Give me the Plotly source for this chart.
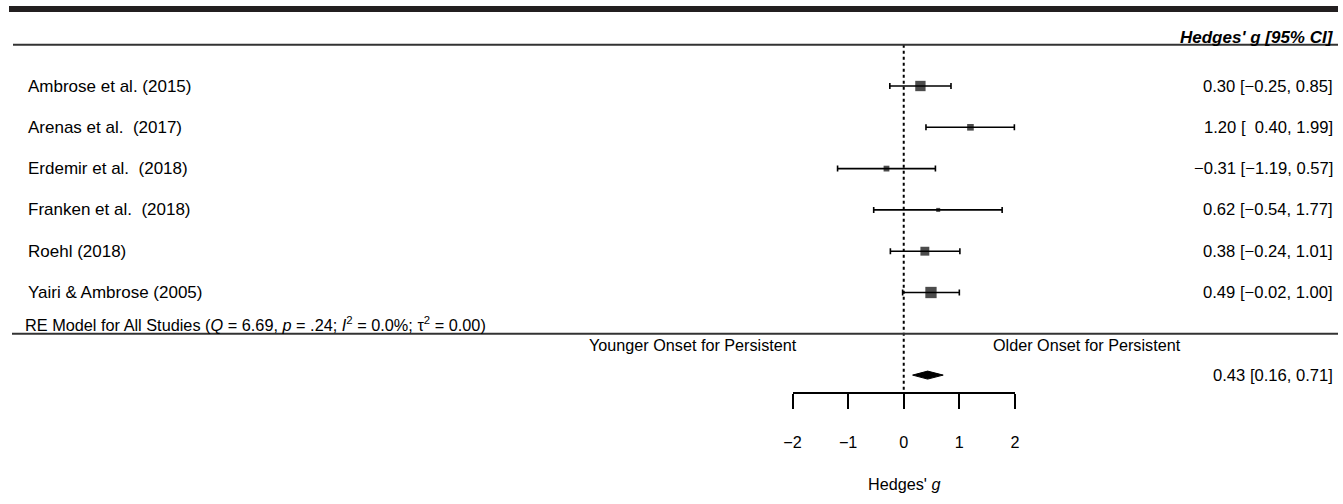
import plotly.graph_objects as go

# ---------------- data ----------------
studies = ["Ambrose et al. (2015)", "Arenas et al.  (2017)", "Erdemir et al.  (2018)",
           "Franken et al.  (2018)", "Roehl (2018)", "Yairi & Ambrose (2005)"]
est = [0.30, 1.20, -0.31, 0.62, 0.38, 0.49]
lb = [-0.25, 0.40, -1.19, -0.54, -0.24, -0.02]
ub = [0.85, 1.99, 0.57, 1.77, 1.01, 1.00]
summary_est, summary_lb, summary_ub = 0.43, 0.16, 0.71
tick_vals = [-2, -1, 0, 1, 2]
header_label = "<b><i>Hedges' g [95% CI]</i></b>"
model_label = ("RE Model for All Studies (<i>Q</i> = 6.69, <i>p</i> = .24; "
               "<i>I</i><sup>2</sup> = 0.0%; τ<sup>2</sup> = 0.00)")
left_note = "Younger Onset for Persistent"
right_note = "Older Onset for Persistent"
axis_title = "Hedges' <i>g</i>"

# ---------------- geometry helpers ----------------
W, H = 1343, 504
# the page is photographed with a slight horizontal offset/scale; compensate
OFF_X, SCALE_X = 9.0, 0.9896

def cx(px):
    """target pixel -> layout pixel"""
    return (px - OFF_X) / SCALE_X

X0_PX = cx(903.75)              # layout pixel of g = 0
PX_PER_UNIT = 55.6 / SCALE_X    # layout pixels per unit of g
ROW6_PX = 86.0
PX_PER_ROW = 41.3

def gx(px):
    return (cx(px) - X0_PX) / PX_PER_UNIT

def row(px):
    return 6 - (px - ROW6_PX) / PX_PER_ROW

def paper_y(px):
    return 1 - px / H

k = len(studies)
rows = list(range(k, 0, -1))
summary_row = -1

FONT = "Liberation Sans, Arial, sans-serif"
FS = 17.0

def fmt(v):
    return f"{v:.2f}".replace("-", "\u2212")

any_neg = any(v < 0 for v in lb)
ci_text = []
for e, l, u in zip(est, lb, ub):
    ls = fmt(l)
    if any_neg and l >= 0:
        ls = "\u00a0\u00a0" + ls
    ci_text.append(f"{fmt(e)} [{ls}, {fmt(u)}]")

# marker sizes from precision (as metafor does)
w = [1 / ((u - l) / 3.92) for l, u in zip(lb, ub)]
wmin, wmax = min(w), max(w)
sizes = [4 + 7.3 * (wi - wmin) / (wmax - wmin) for wi in w]

fig = go.Figure()

fig.add_trace(go.Scatter(
    x=est, y=rows, mode="markers",
    marker=dict(symbol="square", size=sizes, color="black", line=dict(width=0)),
    error_x=dict(type="data", symmetric=False,
                 array=[u - e for e, u in zip(est, ub)],
                 arrayminus=[e - l for e, l in zip(est, lb)],
                 color="black", thickness=1.6, width=3),
    showlegend=False, hoverinfo="skip", cliponaxis=False))

dh = 4 / PX_PER_ROW
fig.add_trace(go.Scatter(
    x=[summary_lb, summary_est, summary_ub, summary_est, summary_lb],
    y=[summary_row, summary_row + dh, summary_row, summary_row - dh, summary_row],
    mode="lines", fill="toself", fillcolor="black",
    line=dict(color="black", width=1), showlegend=False, hoverinfo="skip"))

fig.add_trace(go.Scatter(
    x=[0, 0], y=[k + 1, row(393)], xaxis="x2", yaxis="y",
    mode="lines", line=dict(color="black", width=2, dash="3px,3px"),
    showlegend=False, hoverinfo="skip", cliponaxis=False))

txt_font = dict(family=FONT, size=FS, color="black")
annotations = []
for r, s, t in zip(rows, studies, ci_text):
    annotations.append(dict(x=gx(26), y=r, xref="x", yref="y", text=s,
                            xanchor="left", yanchor="middle", showarrow=False, font=txt_font))
    annotations.append(dict(x=gx(1335), y=r, xref="x", yref="y", text=t,
                            xanchor="right", yanchor="middle", showarrow=False,
                            font=dict(family=FONT, size=16.6, color="black")))

annotations.append(dict(x=gx(1335), y=summary_row, xref="x", yref="y",
                        text=f"{fmt(summary_est)} [{fmt(summary_lb)}, {fmt(summary_ub)}]",
                        xanchor="right", yanchor="middle", showarrow=False,
                        font=dict(family=FONT, size=16.6, color="black")))
annotations.append(dict(x=gx(1336), y=row(37), xref="x", yref="y", text=header_label,
                        xanchor="right", yanchor="middle", showarrow=False, font=txt_font))
annotations.append(dict(x=gx(23), y=row(324), xref="x", yref="y", text=model_label,
                        xanchor="left", yanchor="middle", showarrow=False,
                        font=dict(family=FONT, size=16.3, color="black")))
annotations.append(dict(x=gx(799), y=row(345), xref="x", yref="y", text=left_note,
                        xanchor="right", yanchor="middle", showarrow=False,
                        font=dict(family=FONT, size=16.2, color="black")))
annotations.append(dict(x=gx(991), y=row(345), xref="x", yref="y", text=right_note,
                        xanchor="left", yanchor="middle", showarrow=False,
                        font=dict(family=FONT, size=16.2, color="black")))
annotations.append(dict(x=0, y=row(484), xref="x", yref="y", text=axis_title,
                        xanchor="center", yanchor="middle", showarrow=False,
                        font=dict(family=FONT, size=16.2, color="black")))

shapes = [
    # top black bar
    dict(type="rect", xref="paper", yref="paper", x0=max(cx(8), 0) / W, x1=1,
         y0=paper_y(12), y1=paper_y(6), fillcolor="#231f20", line=dict(width=0)),
    # header rule
    dict(type="line", xref="x", yref="y", x0=gx(13), x1=gx(1360), y0=k + 1, y1=k + 1,
         line=dict(color="#333333", width=2)),
    # summary rule
    dict(type="line", xref="x", yref="y", x0=gx(12), x1=gx(1360), y0=0, y1=0,
         line=dict(color="#333333", width=2)),
]

fig.update_layout(
    width=W, height=H, autosize=False,
    margin=dict(l=0, r=0, t=0, b=0),
    paper_bgcolor="white", plot_bgcolor="rgba(0,0,0,0)",
    xaxis=dict(range=[(0 - X0_PX) / PX_PER_UNIT, (W - X0_PX) / PX_PER_UNIT],
               visible=False, domain=[0, 1]),
    xaxis2=dict(range=[-2, 2],
                domain=[(X0_PX - 2 * PX_PER_UNIT) / W, (X0_PX + 2 * PX_PER_UNIT) / W],
                anchor="free", position=paper_y(393),
                showline=True, linecolor="black", linewidth=2,
                ticks="outside", ticklen=15, tickwidth=2, tickcolor="black",
                tickvals=tick_vals, ticktext=[fmt(v).replace(".00", "") for v in tick_vals],
                ticklabelstandoff=20,
                tickfont=dict(family=FONT, size=16.2, color="black"),
                showgrid=False, zeroline=False, fixedrange=True),
    yaxis=dict(range=[row(H), row(0)], visible=False, domain=[0, 1]),
    annotations=annotations, shapes=shapes,
    font=dict(family=FONT, color="black"),
)

fig.write_html("out.html",
               config={"displayModeBar": False, "responsive": False},
               default_width=f"{W}px", default_height=f"{H}px",
               post_script="document.body.style.margin='0';document.body.style.overflow='hidden';")
